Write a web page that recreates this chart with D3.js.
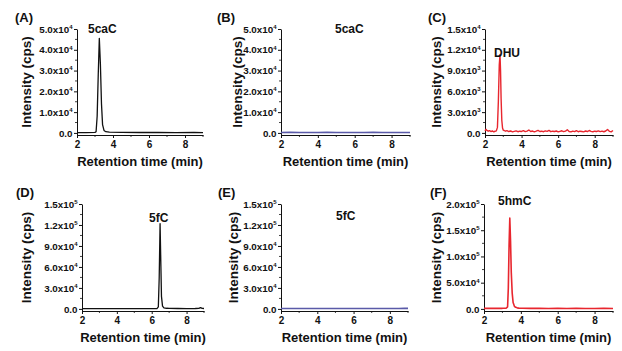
<!DOCTYPE html>
<html>
<head>
<meta charset="utf-8">
<script src="https://cdn.jsdelivr.net/npm/d3@7"></script>
<style>
  body { margin: 0; background: #fff; }
  text { font-family: "Liberation Sans", Arial, sans-serif; font-weight: bold; fill: #111; }
</style>
</head>
<body>
<svg id="chart" width="622" height="351"></svg>
<script>
// ---- data (time in min, intensity in cps) ----
const xTicks = [2, 4, 6, 8];

const timeA = [2.0, 2.5, 3.0, 3.06, 3.12, 3.18, 3.24, 3.3, 3.36, 3.42, 3.5, 3.6, 3.8, 4.5, 5.5, 6.5, 7.5, 8.5, 9.0];
const intA  = [150, 180, 250, 600, 8000, 28000, 45500, 33000, 14000, 4000, 1200, 600, 350, 250, 200, 200, 180, 200, 180];
const yTicksA = [0, 10000, 20000, 30000, 40000, 50000];

const timeB = [2.0, 2.5, 3.0, 3.5, 4.0, 4.5, 5.0, 5.5, 6.0, 6.5, 7.0, 7.5, 8.0, 8.5, 9.0];
const intB  = [200, 250, 180, 220, 200, 260, 190, 230, 210, 180, 240, 200, 220, 190, 210];
const yTicksB = [0, 10000, 20000, 30000, 40000, 50000];

const timeC = [2.00, 2.05, 2.10, 2.18, 2.25, 2.32, 2.40, 2.48, 2.55, 2.62,
               2.68, 2.73, 2.78, 2.82, 2.85, 2.88, 2.92, 2.96, 3.00, 3.05,
               3.12, 3.20, 3.3, 3.4, 3.5, 3.6, 3.7, 3.8, 3.9, 4.0,
               4.1, 4.2, 4.3, 4.4, 4.5, 4.6, 4.7, 4.8, 4.9, 5.0,
               5.1, 5.2, 5.3, 5.4, 5.5, 5.6, 5.7, 5.8, 5.9, 6.0,
               6.1, 6.2, 6.3, 6.4, 6.5, 6.6, 6.7, 6.8, 6.9, 7.0,
               7.1, 7.2, 7.3, 7.4, 7.5, 7.6, 7.7, 7.8, 7.9, 8.0,
               8.1, 8.2, 8.3, 8.4, 8.5, 8.6, 8.7, 8.8, 8.9, 9.0];
const intC  = [300, 520, 380, 250, 330, 200, 280, 160, 240, 300,
               800, 4500, 9800, 11300, 9000, 5000, 1800, 700, 400, 350,
               250, 320, 200, 280, 150, 230, 300, 170, 250, 210,
               330, 190, 250, 420, 210, 270, 150, 250, 370, 200,
               250, 170, 300, 220, 370, 180, 250, 200, 280, 150,
               230, 310, 190, 250, 470, 210, 150, 250, 190, 330,
               170, 250, 210, 150, 280, 200, 350, 230, 170, 250,
               210, 300, 190, 250, 170, 280, 500, 230, 150, 350];
const yTicksC = [0, 3000, 6000, 9000, 12000, 15000];

const timeD = [2.0, 2.5, 3.0, 3.5, 4.0, 4.5, 5.0, 5.5, 6.0, 6.3, 6.38, 6.43, 6.48, 6.52, 6.56, 6.62, 6.7, 6.85, 7.0, 7.5, 8.0, 8.5, 8.7, 8.8, 8.9, 9.0];
const intD  = [300, 400, 350, 300, 350, 300, 300, 350, 400, 500, 3000, 45000, 122000, 70000, 18000, 4000, 1500, 900, 700, 600, 500, 600, 800, 1800, 700, 600];
const yTicksD = [0, 30000, 60000, 90000, 120000, 150000];

const timeE = [2.0, 2.5, 3.0, 3.5, 4.0, 4.5, 5.0, 5.5, 6.0, 6.5, 7.0, 7.5, 8.0, 8.5, 8.8, 9.0];
const intE  = [500, 550, 480, 520, 500, 560, 490, 530, 510, 480, 540, 500, 560, 600, 900, 700];
const yTicksE = [0, 30000, 60000, 90000, 120000, 150000];

const timeF = [2.0, 2.5, 3.0, 3.2, 3.28, 3.32, 3.36, 3.40, 3.44, 3.48, 3.53, 3.58, 3.65, 3.72, 3.8, 3.9, 4.1, 4.5, 5.0, 5.5, 6.0, 6.5, 7.0, 7.5, 8.0, 8.5, 9.0];
const intF  = [1000, 1000, 1100, 1300, 4000, 40000, 120000, 173000, 130000, 70000, 30000, 12000, 5000, 3000, 2000, 1500, 1200, 1000, 1000, 900, 1000, 900, 1000, 900, 900, 1000, 900];
const yTicksF = [0, 50000, 100000, 150000, 200000];

// ---- layout of the six panels ----
const black = "#111", blue = "#5a5aa8", red = "#e8262e";
const panels = [
  {tag: "(A)", name: "5caC", t: timeA, v: intA, yt: yTicksA, color: black, lw: 1.3,
   x0: 77, x1: 203, top: 29, bottom: 135, tagX: 15, nameX: 88, nameY: 33, titleX: 26},
  {tag: "(B)", name: "5caC", t: timeB, v: intB, yt: yTicksB, color: blue, lw: 1.6,
   x0: 281, x1: 410, top: 29, bottom: 135, tagX: 217, nameX: 335, nameY: 33, titleX: 237},
  {tag: "(C)", name: "DHU", t: timeC, v: intC, yt: yTicksC, color: red, lw: 1.4,
   x0: 485, x1: 613, top: 29, bottom: 135, tagX: 428, nameX: 494, nameY: 57, titleX: 436},
  {tag: "(D)", name: "5fC", t: timeD, v: intD, yt: yTicksD, color: black, lw: 1.3,
   x0: 82, x1: 204, top: 204, bottom: 311, tagX: 16, nameX: 149, nameY: 222, titleX: 26},
  {tag: "(E)", name: "5fC", t: timeE, v: intE, yt: yTicksE, color: blue, lw: 1.6,
   x0: 281, x1: 408, top: 204, bottom: 311, tagX: 218, nameX: 336, nameY: 220, titleX: 233},
  {tag: "(F)", name: "5hmC", t: timeF, v: intF, yt: yTicksF, color: red, lw: 1.6,
   x0: 484, x1: 613, top: 204, bottom: 311, tagX: 430, nameX: 498, nameY: 205, titleX: 436}
];

function sciLabel(sel) {
  sel.each(function(d) {
    let txt = d3.select(this).text("");
    if (d === 0) { txt.text("0.0"); return; }
    let e = Math.floor(Math.log10(d) + 1e-9);
    let m = (d / Math.pow(10, e)).toFixed(1);
    txt.append("tspan").text(m + "x10");
    txt.append("tspan").attr("font-size", "6px").attr("dy", "-3.8").text(e);
  });
}

const svg = d3.select("#chart");

panels.forEach(p => {
  let yMax = p.yt[p.yt.length - 1];
  let x = d3.scaleLinear().domain([2, 9]).range([p.x0, p.x1]);
  let y = d3.scaleLinear().domain([-yMax * 0.02, yMax]).range([p.bottom, p.top]);
  let g = svg.append("g");

  // minor ticks
  let xMinor = [3, 5, 7, 9];
  g.selectAll(".xm").data(xMinor).enter().append("line")
    .attr("x1", d => x(d)).attr("x2", d => x(d))
    .attr("y1", p.bottom).attr("y2", p.bottom + 2)
    .attr("stroke", "#111").attr("stroke-width", 0.8);
  let step = p.yt[1] - p.yt[0];
  let yMinor = p.yt.slice(0, -1).map(d => d + step / 2);
  g.selectAll(".ym").data(yMinor).enter().append("line")
    .attr("x1", p.x0).attr("x2", p.x0 - 2)
    .attr("y1", d => y(d)).attr("y2", d => y(d))
    .attr("stroke", "#111").attr("stroke-width", 0.8);

  // axes
  let xa = g.append("g").attr("transform", `translate(0,${p.bottom})`)
    .call(d3.axisBottom(x).tickValues(xTicks).tickFormat(d3.format("d"))
      .tickSize(3).tickSizeOuter(0).tickPadding(3));
  xa.selectAll("text").attr("font-size", "10px");

  let ya = g.append("g").attr("transform", `translate(${p.x0},0)`)
    .call(d3.axisLeft(y).tickValues(p.yt).tickSize(3).tickSizeOuter(0).tickPadding(1.5));
  ya.selectAll("text").attr("font-size", "9.8px").call(sciLabel);

  [xa, ya].forEach(a => {
    a.select(".domain").attr("stroke", "#111").attr("stroke-width", 1);
    a.selectAll(".tick line").attr("stroke", "#111").attr("stroke-width", 1);
    a.selectAll("text").style("font-weight", "bold").attr("fill", "#111");
  });

  // chromatogram trace
  let pts = p.t.map((t, i) => [t, p.v[i]]);
  let line = d3.line().x(d => x(d[0])).y(d => y(d[1]));
  g.append("path").datum(pts)
    .attr("d", line)
    .attr("fill", "none")
    .attr("stroke", p.color)
    .attr("stroke-width", p.lw)
    .attr("stroke-linejoin", "round");

  // labels
  g.append("text").attr("x", p.tagX).attr("y", p.top - 7)
    .attr("font-size", "13px").text(p.tag);
  g.append("text").attr("x", p.nameX).attr("y", p.nameY)
    .attr("font-size", "12px").text(p.name);
  g.append("text")
    .attr("x", (p.x0 + p.x1) / 2).attr("y", p.bottom + 31)
    .attr("text-anchor", "middle").attr("font-size", "13px")
    .text("Retention time (min)");
  g.append("text")
    .attr("transform", `translate(${p.titleX + 4.5},${(p.top + p.bottom) / 2}) rotate(-90)`)
    .attr("text-anchor", "middle").attr("font-size", "13.5px")
    .text("Intensity (cps)");
});
</script>
</body>
</html>
